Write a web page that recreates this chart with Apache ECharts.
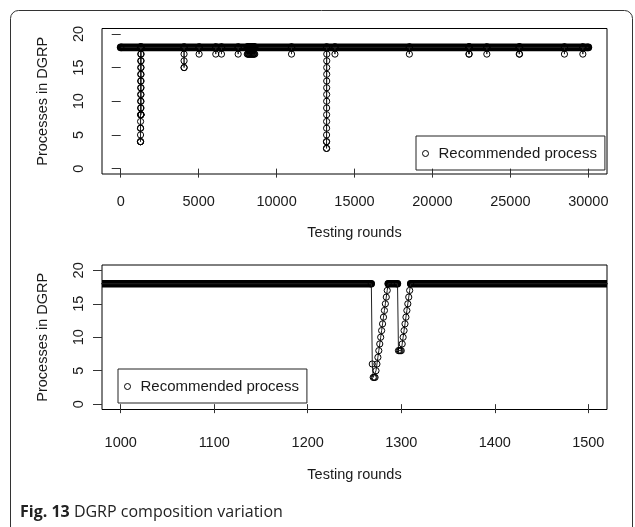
<!DOCTYPE html>
<html>
<head>
<meta charset="utf-8">
<script src="https://cdn.jsdelivr.net/npm/echarts@6/dist/echarts.min.js"></script>
<style>
  html, body { margin: 0; padding: 0; background: #fff; }
  #chart { width: 635px; height: 527px; }
</style>
</head>
<body>
<div id="chart"></div>
<script>
// Number of processes in the DGRP recommended at each testing round.
// Every round that is not listed below recommends the full set of 18.
const fullSize = 18;
const firstRound = 1;
const lastRound = 30000;

// Rounds with a smaller recommendation, and the number recommended
const dipRounds = [
  1269, 1270, 1271, 1272, 1273, 1274, 1275, 1276, 1277, 1278, 1279, 1280, 1281, 1282, 1283, 1284, 1285,
  1297, 1298, 1299, 1300, 1301, 1302, 1303, 1304, 1305, 1306, 1307, 1308, 1309,
  4065, 4066, 4067, 4068,
  5030, 6100, 6466, 7536,
  8120, 8160, 8200, 8240, 8280, 8320, 8360, 8400, 8440, 8480, 8520, 8560, 8600,
  10960,
  13205, 13206, 13207, 13208, 13209, 13210, 13211, 13212, 13213, 13214, 13215, 13216, 13217, 13218, 13219, 13220, 13221,
  13745, 18520, 22340, 22360, 23490, 25570, 25590, 28470, 29650
];
const dipProcesses = [
  6, 4, 4, 4, 5, 6, 7, 8, 9, 10, 11, 12, 13, 14, 15, 16, 17,
  8, 8, 8, 8, 9, 10, 11, 12, 13, 14, 15, 16, 17,
  17, 16, 15, 15,
  17, 17, 17, 17,
  17, 17, 17, 17, 17, 17, 17, 17, 17, 17, 17, 17, 17,
  17,
  4, 3, 3, 4, 5, 6, 7, 8, 9, 10, 11, 12, 13, 14, 15, 16, 17,
  17, 17, 17, 17, 17, 17, 17, 17, 17
];

// Axis ticks
const topTicks = [0, 5000, 10000, 15000, 20000, 25000, 30000];
const bottomTicks = [1000, 1100, 1200, 1300, 1400, 1500];
const yTicks = [0, 5, 10, 15, 20];

// Visible round ranges of the two panels
const topRange = [-1200, 31200];
const bottomRange = [980, 1520];

const seriesName = 'Recommended process';
const FONT = 'Liberation Sans';
const INK = '#1a1a1a';

// Points of the trace: each reduced round plus the full-size rounds beside it
function buildTrace() {
  const dip = new Set(dipRounds);
  const pts = [[firstRound, fullSize]];
  dipRounds.forEach((r, i) => {
    if (!dip.has(r - 1)) pts.push([r - 1, fullSize]);
    pts.push([r, dipProcesses[i]]);
    if (!dip.has(r + 1)) pts.push([r + 1, fullSize]);
  });
  pts.push([lastRound, fullSize]);
  return pts;
}

// Stretches of consecutive full-size rounds (their packed circles form a solid band),
// cut to the visible range; only real stretch ends get a rounded end.
function buildFullRuns(range) {
  const runs = [];
  let start = firstRound;
  dipRounds.forEach(r => {
    if (r - 1 >= start) runs.push([start, r - 1]);
    start = Math.max(start, r + 1);
  });
  runs.push([start, lastRound]);
  const seg = [];
  runs.forEach(([a, b]) => {
    if (b < range[0] || a > range[1]) return;
    const a2 = Math.max(a, range[0]);
    const b2 = Math.min(b, range[1]);
    seg.push({ value: [a2, fullSize], symbol: a2 === a ? 'circle' : 'none' });
    seg.push({ value: [b2, fullSize], symbol: b2 === b ? 'circle' : 'none' });
    seg.push(['-', '-']);
  });
  return seg;
}

const trace = buildTrace();

const chart = echarts.init(document.getElementById('chart'), null, { renderer: 'canvas' });

const plain = v => String(v);

function xAxisFor(gridIndex, range, ticks, labelMargin, nameGap) {
  return {
    type: 'value', gridIndex, min: range[0], max: range[1],
    name: 'Testing rounds', nameLocation: 'middle', nameGap,
    nameTextStyle: { fontFamily: FONT, fontSize: 14.5, color: INK },
    axisLine: { show: false },
    axisTick: { show: true, length: 9, customValues: ticks, lineStyle: { color: '#333', width: 1 } },
    axisLabel: { customValues: ticks, formatter: plain, margin: labelMargin, fontFamily: FONT, fontSize: 14.5, color: INK },
    splitLine: { show: false }
  };
}
function yAxisFor(gridIndex) {
  return {
    type: 'value', gridIndex, min: -0.8, max: 20.8,
    name: 'Processes in DGRP', nameLocation: 'middle', nameGap: 52,
    nameTextStyle: { fontFamily: FONT, fontSize: 14.5, color: INK },
    axisLine: { show: false },
    axisTick: { show: true, length: 9, customValues: yTicks, lineStyle: { color: '#333', width: 1 } },
    axisLabel: { customValues: yTicks, formatter: plain, rotate: 90, margin: 16, fontFamily: FONT, fontSize: 14.5, color: INK },
    splitLine: { show: false }
  };
}
function bandSeries(axisIndex, range, width) {
  return {
    type: 'line', name: 'full', xAxisIndex: axisIndex, yAxisIndex: axisIndex,
    data: buildFullRuns(range), symbol: 'circle', symbolSize: width, showSymbol: true, showAllSymbol: true,
    connectNulls: false, clip: true, silent: true,
    itemStyle: { color: '#000', borderWidth: 0 },
    lineStyle: { color: '#000', width, cap: 'butt' }, z: 2
  };
}
function traceSeries(axisIndex) {
  return {
    type: 'line', name: seriesName, xAxisIndex: axisIndex, yAxisIndex: axisIndex,
    data: trace, symbol: 'circle', symbolSize: 6.2, showSymbol: true, showAllSymbol: true,
    clip: true, silent: true,
    itemStyle: { color: 'rgba(0,0,0,0)', borderColor: '#000', borderWidth: 1 },
    lineStyle: { color: '#222', width: 1 }, z: 3
  };
}
function legendAt(left, top) {
  return {
    left, top, orient: 'horizontal',
    data: [{ name: seriesName, icon: 'circle',
             itemStyle: { color: 'rgba(0,0,0,0)', borderColor: '#000', borderWidth: 1 } }],
    itemWidth: 16, itemHeight: 6, selectedMode: false,
    borderColor: '#222', borderWidth: 1, padding: [10, 8, 9, 6],
    textStyle: { fontFamily: FONT, fontSize: 15, color: INK }
  };
}

chart.setOption({
  animation: false,
  backgroundColor: '#fff',
  grid: [
    { left: 102, top: 28.5, width: 505, height: 145.5, show: true, borderColor: '#000', borderWidth: 1, backgroundColor: 'transparent' },
    { left: 102, top: 265, width: 505, height: 144.5, show: true, borderColor: '#000', borderWidth: 1, backgroundColor: 'transparent' }
  ],
  xAxis: [
    xAxisFor(0, topRange, topTicks, 20, 51),
    xAxisFor(1, bottomRange, bottomTicks, 26, 58)
  ],
  yAxis: [yAxisFor(0), yAxisFor(1)],
  legend: [legendAt(416, 136), legendAt(118, 369)],
  series: [
    bandSeries(0, topRange, 7.8), traceSeries(0),
    bandSeries(1, bottomRange, 7.3), traceSeries(1)
  ],
  graphic: [
    { type: 'rect', silent: true, z: 10,
      shape: { x: 10.5, y: 10.5, width: 622, height: 560, r: 8 },
      style: { fill: 'none', stroke: '#333', lineWidth: 1 } },
    { type: 'text', left: 20, top: 504, silent: true, z: 10,
      style: {
        text: '{b|Fig. 13} DGRP composition variation',
        fontFamily: 'Open Sans', fontSize: 16, fill: '#222',
        rich: { b: { fontFamily: 'Open Sans', fontSize: 16, fontWeight: 'bold', fill: '#222' } }
      } }
  ]
});
</script>
</body>
</html>
